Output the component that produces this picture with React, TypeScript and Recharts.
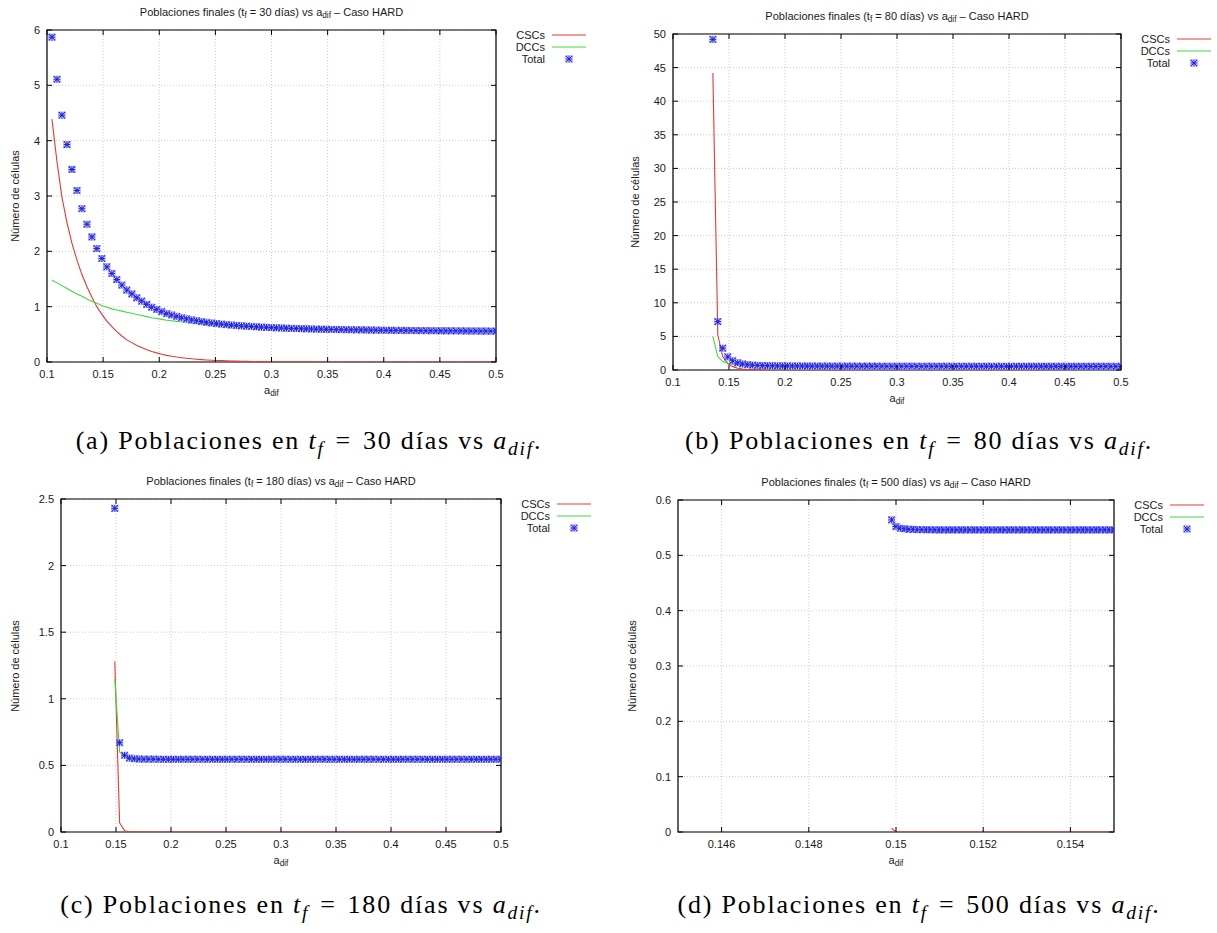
import React from 'react';
import { ComposedChart, Line, Scatter, XAxis, YAxis, CartesianGrid, ReferenceArea } from 'recharts';

// a_dif sweep used in the three wide panels (0.1 -> 0.5 in 90 steps, first point left out)
const A_DIF = [
  0.1044, 0.1089, 0.1133, 0.1178, 0.1222, 0.1267, 0.1311, 0.1356, 0.14,
  0.1444, 0.1489, 0.1533, 0.1578, 0.1622, 0.1667, 0.1711, 0.1756, 0.18,
  0.1844, 0.1889, 0.1933, 0.1978, 0.2022, 0.2067, 0.2111, 0.2156, 0.22,
  0.2244, 0.2289, 0.2333, 0.2378, 0.2422, 0.2467, 0.2511, 0.2556, 0.26,
  0.2644, 0.2689, 0.2733, 0.2778, 0.2822, 0.2867, 0.2911, 0.2956, 0.3,
  0.3044, 0.3089, 0.3133, 0.3178, 0.3222, 0.3267, 0.3311, 0.3356, 0.34,
  0.3444, 0.3489, 0.3533, 0.3578, 0.3622, 0.3667, 0.3711, 0.3756, 0.38,
  0.3844, 0.3889, 0.3933, 0.3978, 0.4022, 0.4067, 0.4111, 0.4156, 0.42,
  0.4244, 0.4289, 0.4333, 0.4378, 0.4422, 0.4467, 0.4511, 0.4556, 0.46,
  0.4644, 0.4689, 0.4733, 0.4778, 0.4822, 0.4867, 0.4911, 0.4956, 0.5,
];

// zoomed sweep for t_f = 500
const A_DIF_500 = [
  0.1499, 0.15, 0.1501, 0.1502, 0.1503, 0.1504, 0.1505, 0.1506, 0.1507, 0.1508, 0.1509,
  0.151, 0.1511, 0.1512, 0.1513, 0.1514, 0.1515, 0.1516, 0.1517, 0.1518, 0.1519,
  0.152, 0.1521, 0.1522, 0.1523, 0.1524, 0.1525, 0.1526, 0.1527, 0.1528, 0.1529,
  0.153, 0.1531, 0.1532, 0.1533, 0.1534, 0.1535, 0.1536, 0.1537, 0.1538, 0.1539,
  0.154, 0.1541, 0.1542, 0.1543, 0.1544, 0.1545, 0.1546, 0.1547, 0.1548, 0.1549,
  0.155,
];

// t_f = 30 días
const CSC_30 = [
  4.39, 3.62, 2.98, 2.52, 2.15, 1.84, 1.58, 1.36, 1.17, 1.0,
  0.86, 0.74, 0.64, 0.55, 0.47, 0.4, 0.35, 0.3, 0.26, 0.22,
  0.19, 0.165, 0.14, 0.12, 0.105, 0.09, 0.078, 0.067, 0.058, 0.05,
  0.043, 0.037, 0.032, 0.028, 0.024, 0.021, 0.018, 0.015, 0.013, 0.011,
  0.01, 0.008, 0.007, 0.006, 0.005, 0.004, 0.004, 0.003, 0.003, 0.002,
  0.002, 0.002, 0.002, 0.001, 0.001, 0.001, 0.001, 0.001, 0.001, 0.001,
  0, 0, 0, 0, 0, 0, 0, 0, 0, 0,
  0, 0, 0, 0, 0, 0, 0, 0, 0, 0,
  0, 0, 0, 0, 0, 0, 0, 0, 0, 0,
];
const DCC_30 = [
  1.48, 1.43, 1.38, 1.33, 1.28, 1.23, 1.19, 1.14, 1.1, 1.06,
  1.02, 0.99, 0.96, 0.94, 0.92, 0.9, 0.88, 0.86, 0.84, 0.82,
  0.8, 0.785, 0.77, 0.755, 0.745, 0.735, 0.722, 0.713, 0.702, 0.695,
  0.687, 0.68, 0.673, 0.667, 0.661, 0.655, 0.65, 0.645, 0.64, 0.636,
  0.632, 0.628, 0.624, 0.621, 0.617, 0.614, 0.611, 0.608, 0.605, 0.603,
  0.6, 0.598, 0.595, 0.594, 0.592, 0.59, 0.588, 0.586, 0.585, 0.583,
  0.583, 0.581, 0.58, 0.579, 0.577, 0.576, 0.575, 0.574, 0.573, 0.572,
  0.571, 0.57, 0.569, 0.568, 0.567, 0.567, 0.566, 0.565, 0.564, 0.564,
  0.563, 0.562, 0.562, 0.561, 0.56, 0.56, 0.559, 0.559, 0.558, 0.558,
];
const TOTAL_30 = [
  5.87, 5.11, 4.46, 3.93, 3.48, 3.1, 2.77, 2.49, 2.26, 2.05,
  1.87, 1.72, 1.6, 1.49, 1.39, 1.3, 1.23, 1.16, 1.1, 1.04,
  0.99, 0.95, 0.91, 0.875, 0.85, 0.825, 0.8, 0.78, 0.76, 0.745,
  0.73, 0.717, 0.705, 0.695, 0.685, 0.676, 0.668, 0.66, 0.653, 0.647,
  0.642, 0.636, 0.631, 0.627, 0.622, 0.618, 0.615, 0.611, 0.608, 0.605,
  0.602, 0.6, 0.597, 0.595, 0.593, 0.591, 0.589, 0.587, 0.586, 0.584,
  0.583, 0.581, 0.58, 0.579, 0.577, 0.576, 0.575, 0.574, 0.573, 0.572,
  0.571, 0.57, 0.569, 0.568, 0.567, 0.567, 0.566, 0.565, 0.564, 0.564,
  0.563, 0.562, 0.562, 0.561, 0.56, 0.56, 0.559, 0.559, 0.558, 0.558,
];

// t_f = 80 días (starts at a_dif ~ 0.1356)
const CSC_80 = [
  44.2, 5.2, 2.0, 0.95, 0.5, 0.27, 0.15, 0.08, 0.045, 0.025,
  0.014, 0.008, 0.005, 0.003, 0.002, 0.001, 0, 0, 0, 0,
  0, 0, 0, 0, 0, 0, 0, 0, 0, 0,
  0, 0, 0, 0, 0, 0, 0, 0, 0, 0,
  0, 0, 0, 0, 0, 0, 0, 0, 0, 0,
  0, 0, 0, 0, 0, 0, 0, 0, 0, 0,
  0, 0, 0, 0, 0, 0, 0, 0, 0, 0,
  0, 0, 0, 0, 0, 0, 0, 0, 0, 0,
  0, 0, 0,
];
const DCC_80 = [
  5.0, 2.0, 1.25, 1.0, 0.88, 0.8, 0.75, 0.71, 0.68, 0.66,
  0.645, 0.635, 0.625, 0.617, 0.61, 0.604, 0.599, 0.595, 0.591, 0.588,
  0.585, 0.582, 0.58, 0.578, 0.576, 0.574, 0.572, 0.571, 0.569, 0.568,
  0.567, 0.566, 0.565, 0.564, 0.563, 0.563, 0.562, 0.561, 0.561, 0.56,
  0.56, 0.559, 0.559, 0.558, 0.558, 0.558, 0.557, 0.557, 0.557, 0.556,
  0.556, 0.556, 0.556, 0.555, 0.555, 0.555, 0.555, 0.554, 0.554, 0.554,
  0.554, 0.553, 0.553, 0.553, 0.553, 0.553, 0.552, 0.552, 0.552, 0.552,
  0.552, 0.552, 0.551, 0.551, 0.551, 0.551, 0.551, 0.551, 0.551, 0.55,
  0.55, 0.55, 0.55,
];
const TOTAL_80 = [
  49.2, 7.2, 3.25, 1.95, 1.38, 1.07, 0.9, 0.79, 0.725, 0.685,
  0.659, 0.643, 0.63, 0.62, 0.612, 0.605, 0.599, 0.595, 0.591, 0.588,
  0.585, 0.582, 0.58, 0.578, 0.576, 0.574, 0.572, 0.571, 0.569, 0.568,
  0.567, 0.566, 0.565, 0.564, 0.563, 0.563, 0.562, 0.561, 0.561, 0.56,
  0.56, 0.559, 0.559, 0.558, 0.558, 0.558, 0.557, 0.557, 0.557, 0.556,
  0.556, 0.556, 0.556, 0.555, 0.555, 0.555, 0.555, 0.554, 0.554, 0.554,
  0.554, 0.553, 0.553, 0.553, 0.553, 0.553, 0.552, 0.552, 0.552, 0.552,
  0.552, 0.552, 0.551, 0.551, 0.551, 0.551, 0.551, 0.551, 0.551, 0.55,
  0.55, 0.55, 0.55,
];

// t_f = 180 días (starts at a_dif ~ 0.1489)
const CSC_180 = [
  1.28, 0.068, 0.01, 0.002, 0.001, 0, 0, 0, 0, 0,
  0, 0, 0, 0, 0, 0, 0, 0, 0, 0,
  0, 0, 0, 0, 0, 0, 0, 0, 0, 0,
  0, 0, 0, 0, 0, 0, 0, 0, 0, 0,
  0, 0, 0, 0, 0, 0, 0, 0, 0, 0,
  0, 0, 0, 0, 0, 0, 0, 0, 0, 0,
  0, 0, 0, 0, 0, 0, 0, 0, 0, 0,
  0, 0, 0, 0, 0, 0, 0, 0, 0, 0,
];
const DCC_180 = [
  1.15, 0.6, 0.566, 0.553, 0.549, 0.548, 0.547, 0.547, 0.547, 0.546,
  0.546, 0.546, 0.546, 0.546, 0.546, 0.546, 0.546, 0.546, 0.546, 0.546,
  0.546, 0.546, 0.546, 0.546, 0.546, 0.546, 0.546, 0.546, 0.546, 0.546,
  0.546, 0.546, 0.546, 0.546, 0.546, 0.546, 0.546, 0.546, 0.546, 0.546,
  0.546, 0.546, 0.546, 0.546, 0.546, 0.546, 0.546, 0.546, 0.546, 0.546,
  0.546, 0.546, 0.546, 0.546, 0.546, 0.546, 0.546, 0.546, 0.546, 0.546,
  0.546, 0.546, 0.546, 0.546, 0.546, 0.546, 0.546, 0.546, 0.546, 0.546,
  0.546, 0.546, 0.546, 0.546, 0.546, 0.546, 0.546, 0.546, 0.546, 0.546,
];
const TOTAL_180 = [
  2.43, 0.67, 0.576, 0.555, 0.55, 0.548, 0.547, 0.547, 0.547, 0.546,
  0.546, 0.546, 0.546, 0.546, 0.546, 0.546, 0.546, 0.546, 0.546, 0.546,
  0.546, 0.546, 0.546, 0.546, 0.546, 0.546, 0.546, 0.546, 0.546, 0.546,
  0.546, 0.546, 0.546, 0.546, 0.546, 0.546, 0.546, 0.546, 0.546, 0.546,
  0.546, 0.546, 0.546, 0.546, 0.546, 0.546, 0.546, 0.546, 0.546, 0.546,
  0.546, 0.546, 0.546, 0.546, 0.546, 0.546, 0.546, 0.546, 0.546, 0.546,
  0.546, 0.546, 0.546, 0.546, 0.546, 0.546, 0.546, 0.546, 0.546, 0.546,
  0.546, 0.546, 0.546, 0.546, 0.546, 0.546, 0.546, 0.546, 0.546, 0.546,
];

// t_f = 500 días
const CSC_500 = [
  0.007, 0, 0, 0, 0, 0, 0, 0, 0, 0,
  0, 0, 0, 0, 0, 0, 0, 0, 0, 0,
  0, 0, 0, 0, 0, 0, 0, 0, 0, 0,
  0, 0, 0, 0, 0, 0, 0, 0, 0, 0,
  0, 0, 0, 0, 0, 0, 0, 0, 0, 0,
  0, 0,
];
const DCC_500 = [
  0.557, 0.552, 0.549, 0.548, 0.547, 0.547, 0.5465, 0.5465, 0.5463, 0.5463,
  0.546, 0.546, 0.546, 0.546, 0.546, 0.546, 0.546, 0.546, 0.546, 0.546,
  0.546, 0.546, 0.546, 0.546, 0.546, 0.546, 0.546, 0.546, 0.546, 0.546,
  0.546, 0.546, 0.546, 0.546, 0.546, 0.546, 0.546, 0.546, 0.546, 0.546,
  0.546, 0.546, 0.546, 0.546, 0.546, 0.546, 0.546, 0.546, 0.546, 0.546,
  0.546, 0.546,
];
const TOTAL_500 = [
  0.564, 0.552, 0.549, 0.548, 0.547, 0.547, 0.5465, 0.5465, 0.5463, 0.5463,
  0.546, 0.546, 0.546, 0.546, 0.546, 0.546, 0.546, 0.546, 0.546, 0.546,
  0.546, 0.546, 0.546, 0.546, 0.546, 0.546, 0.546, 0.546, 0.546, 0.546,
  0.546, 0.546, 0.546, 0.546, 0.546, 0.546, 0.546, 0.546, 0.546, 0.546,
  0.546, 0.546, 0.546, 0.546, 0.546, 0.546, 0.546, 0.546, 0.546, 0.546,
  0.546, 0.546,
];

// tick labels
const X_TICKS = [0.1, 0.15, 0.2, 0.25, 0.3, 0.35, 0.4, 0.45, 0.5];
const X_TICKS_500 = [0.146, 0.148, 0.15, 0.152, 0.154];
const Y_TICKS_30 = [0, 1, 2, 3, 4, 5, 6];
const Y_TICKS_80 = [0, 5, 10, 15, 20, 25, 30, 35, 40, 45, 50];
const Y_TICKS_180 = [0, 0.5, 1, 1.5, 2, 2.5];
const Y_TICKS_500 = [0, 0.1, 0.2, 0.3, 0.4, 0.5, 0.6];

const FONT = '"Liberation Sans", Arial, Helvetica, sans-serif';
const SERIF = '"Liberation Serif", "DejaVu Serif", serif';
const TXT = '#1a1a1a';
const RED = '#e8382f';
const GREEN = '#3cdc3c';
const BLUE = '#2323e8';
const YW = 40;
const XH = 30;

type Row = { x: number; csc: number; dcc: number; total: number };

function buildRows(xs: number[], csc: number[], dcc: number[], total: number[]): Row[] {
  const off = xs.length - total.length;
  return total.map((t, i) => ({ x: xs[off + i], csc: csc[i], dcc: dcc[i], total: t }));
}

function Star({ cx, cy }: { cx: number; cy: number }) {
  const s = 3.2;
  return (
    <g stroke={BLUE} strokeWidth={1.1}>
      <rect x={cx - s} y={cy - s} width={2 * s} height={2 * s} fill="none" stroke="#9a9af5" strokeWidth={0.7} />
      <line x1={cx - s} y1={cy} x2={cx + s} y2={cy} />
      <line x1={cx} y1={cy - s} x2={cx} y2={cy + s} />
      <line x1={cx - s} y1={cy - s} x2={cx + s} y2={cy + s} />
      <line x1={cx - s} y1={cy + s} x2={cx + s} y2={cy - s} />
    </g>
  );
}

const subStyle: React.CSSProperties = { fontSize: '0.75em', verticalAlign: '-0.3em', lineHeight: 0 };

interface PanelProps {
  box: { left: number; top: number; width: number; height: number };
  plot: { l: number; r: number; t: number; b: number };
  rows: Row[];
  xDomain: [number, number];
  xTicks: number[];
  yDomain: [number, number];
  yTicks: number[];
  tf: string;
  yLabelX: number;
}

function Panel({ box, plot, rows, xDomain, xTicks, yDomain, yTicks, tf, yLabelX }: PanelProps) {
  const pl = plot.l - box.left;
  const pr = plot.r - box.left;
  const pt = plot.t - box.top;
  const pb = plot.b - box.top;
  const margin = {
    top: pt,
    bottom: box.height - pb - XH,
    left: pl - YW,
    right: box.width - pr,
  };

  // gnuplot style: ticks inside the frame, mirrored on the opposite border
  const xTick = (p: any) => (
    <g>
      <line x1={p.x} x2={p.x} y1={pb} y2={pb - 5} stroke="#000" />
      <line x1={p.x} x2={p.x} y1={pt} y2={pt + 5} stroke="#000" />
      <text x={p.x} y={pb + 16} textAnchor="middle" fontSize={11} fontFamily={FONT} fill={TXT}>
        {p.payload.value}
      </text>
    </g>
  );
  const yTick = (p: any) => (
    <g>
      <line x1={pl} x2={pl + 5} y1={p.y} y2={p.y} stroke="#000" />
      <line x1={pr} x2={pr - 5} y1={p.y} y2={p.y} stroke="#000" />
      <text x={pl - 7} y={p.y + 4} textAnchor="end" fontSize={11} fontFamily={FONT} fill={TXT}>
        {p.payload.value}
      </text>
    </g>
  );

  const cx = (plot.l + plot.r) / 2;
  const keyRows = [
    { name: 'CSCs', y: plot.t + 5 },
    { name: 'DCCs', y: plot.t + 17 },
    { name: 'Total', y: plot.t + 29 },
  ];

  return (
    <>
      <div style={{ position: 'absolute', left: box.left, top: box.top }}>
        <ComposedChart width={box.width} height={box.height} data={rows} margin={margin}>
          <CartesianGrid stroke="#bdbdbd" strokeDasharray="1 2" strokeWidth={0.8} />
          <XAxis
            type="number"
            dataKey="x"
            domain={xDomain}
            ticks={xTicks}
            interval={0}
            allowDataOverflow
            height={XH}
            tickLine={false}
            axisLine={false}
            tick={xTick}
          />
          <YAxis
            type="number"
            domain={yDomain}
            ticks={yTicks}
            interval={0}
            allowDataOverflow
            width={YW}
            tickLine={false}
            axisLine={false}
            tick={yTick}
          />
          <ReferenceArea
            x1={xDomain[0]}
            x2={xDomain[1]}
            y1={yDomain[0]}
            y2={yDomain[1]}
            fill="none"
            stroke="#000"
            strokeWidth={1.2}
            ifOverflow="visible"
          />
          <Line type="linear" dataKey="csc" stroke={RED} strokeWidth={1.1} dot={false} isAnimationActive={false} />
          <Line type="linear" dataKey="dcc" stroke={GREEN} strokeWidth={1.1} dot={false} isAnimationActive={false} />
          <Scatter dataKey="total" isAnimationActive={false} shape={(p: any) => <Star cx={p.cx} cy={p.cy} />} />
        </ComposedChart>
      </div>

      <div
        style={{
          position: 'absolute',
          left: cx,
          top: plot.t - 18.5,
          transform: 'translate(-50%, -50%)',
          fontFamily: FONT,
          fontSize: 11,
          color: TXT,
          whiteSpace: 'nowrap',
        }}
      >
        Poblaciones finales (t<sub style={subStyle}>f</sub> = {tf} días) vs a<sub style={subStyle}>dif</sub> – Caso HARD
      </div>

      <div
        style={{
          position: 'absolute',
          left: cx,
          top: plot.b + 28,
          transform: 'translate(-50%, -50%)',
          fontFamily: FONT,
          fontSize: 11,
          color: TXT,
          whiteSpace: 'nowrap',
        }}
      >
        a<sub style={subStyle}>dif</sub>
      </div>

      <div
        style={{
          position: 'absolute',
          left: yLabelX,
          top: (plot.t + plot.b) / 2,
          transform: 'translate(-50%, -50%) rotate(-90deg)',
          fontFamily: FONT,
          fontSize: 11,
          color: TXT,
          whiteSpace: 'nowrap',
        }}
      >
        Número de células
      </div>

      {keyRows.map((k) => (
        <div key={k.name}>
          <div
            style={{
              position: 'absolute',
              left: plot.r + 49 - 60,
              width: 60,
              top: k.y,
              transform: 'translateY(-50%)',
              textAlign: 'right',
              fontFamily: FONT,
              fontSize: 11,
              color: TXT,
            }}
          >
            {k.name}
          </div>
          <svg
            style={{ position: 'absolute', left: plot.r + 54, top: k.y - 6 }}
            width={40}
            height={12}
          >
            {k.name === 'CSCs' && <line x1={2} x2={36} y1={6} y2={6} stroke={RED} strokeWidth={1.1} />}
            {k.name === 'DCCs' && <line x1={2} x2={36} y1={6} y2={6} stroke={GREEN} strokeWidth={1.1} />}
            {k.name === 'Total' && <Star cx={19} cy={6} />}
          </svg>
        </div>
      ))}
    </>
  );
}

const mathGap: React.CSSProperties = { padding: '0 0.1em' };

function Caption({ cx, top, tag, days }: { cx: number; top: number; tag: string; days: string }) {
  return (
    <div
      style={{
        position: 'absolute',
        left: cx - 300,
        width: 600,
        top,
        textAlign: 'center',
        fontFamily: SERIF,
        fontSize: 26,
        letterSpacing: 1.8,
        lineHeight: '32px',
        color: '#000',
        whiteSpace: 'nowrap',
      }}
    >
      ({tag}) Poblaciones en <i>t</i>
      <sub style={subStyle}>
        <i>f</i>
      </sub>{' '}
      <span style={mathGap}>=</span> {days} días vs <i>a</i>
      <sub style={subStyle}>
        <i>dif</i>
      </sub>
      .
    </div>
  );
}

export default function App() {
  const rows30 = buildRows(A_DIF, CSC_30, DCC_30, TOTAL_30);
  const rows80 = buildRows(A_DIF, CSC_80, DCC_80, TOTAL_80);
  const rows180 = buildRows(A_DIF, CSC_180, DCC_180, TOTAL_180);
  const rows500 = buildRows(A_DIF_500, CSC_500, DCC_500, TOTAL_500);

  return (
    <div
      style={{
        position: 'absolute',
        left: 0,
        top: 0,
        width: 1217,
        height: 933,
        background: '#fff',
        overflow: 'hidden',
      }}
    >
      <Panel
        box={{ left: 0, top: 0, width: 600, height: 400 }}
        plot={{ l: 47, r: 496, t: 30, b: 362 }}
        rows={rows30}
        xDomain={[0.1, 0.5]}
        xTicks={X_TICKS}
        yDomain={[0, 6]}
        yTicks={Y_TICKS_30}
        tf="30"
        yLabelX={15}
      />
      <Panel
        box={{ left: 610, top: 0, width: 600, height: 410 }}
        plot={{ l: 673, r: 1121, t: 34, b: 370 }}
        rows={rows80}
        xDomain={[0.1, 0.5]}
        xTicks={X_TICKS}
        yDomain={[0, 50]}
        yTicks={Y_TICKS_80}
        tf="80"
        yLabelX={635}
      />
      <Panel
        box={{ left: 0, top: 465, width: 600, height: 410 }}
        plot={{ l: 61, r: 501, t: 499, b: 832 }}
        rows={rows180}
        xDomain={[0.1, 0.5]}
        xTicks={X_TICKS}
        yDomain={[0, 2.5]}
        yTicks={Y_TICKS_180}
        tf="180"
        yLabelX={15}
      />
      <Panel
        box={{ left: 610, top: 465, width: 600, height: 410 }}
        plot={{ l: 678, r: 1114, t: 500, b: 832 }}
        rows={rows500}
        xDomain={[0.145, 0.155]}
        xTicks={X_TICKS_500}
        yDomain={[0, 0.6]}
        yTicks={Y_TICKS_500}
        tf="500"
        yLabelX={632}
      />

      <Caption cx={309} top={425} tag="a" days="30" />
      <Caption cx={919} top={425} tag="b" days="80" />
      <Caption cx={301} top={889} tag="c" days="180" />
      <Caption cx={919} top={889} tag="d" days="500" />
    </div>
  );
}
